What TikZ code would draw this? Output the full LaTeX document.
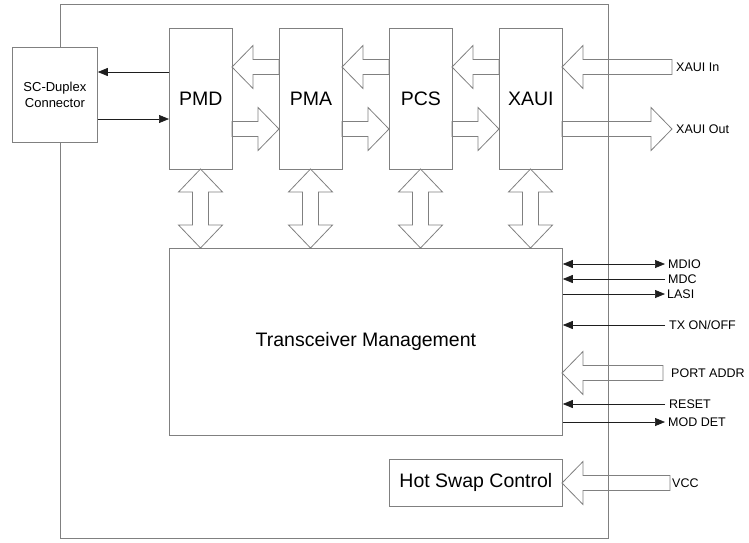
\documentclass[tikz,border=0pt]{standalone}
\usepackage{fontspec}
\setmainfont{Liberation Sans}
\usetikzlibrary{arrows.meta,calc}
\definecolor{boxgray}{RGB}{128,128,128}
\definecolor{siggray}{RGB}{30,30,30}
% horizontal block arrow: tail x, tip x, centre y
\newcommand\hbarrow[3]{%
  \pgfmathsetmacro\hbbase{(#2>#1) ? (#2-21) : (#2+21)}%
  \draw[blk] (#1,#3-7.5) -- (\hbbase,#3-7.5) -- (\hbbase,#3-21.5) -- (#2,#3)
    -- (\hbbase,#3+21.5) -- (\hbbase,#3+7.5) -- (#1,#3+7.5) -- cycle;}
% vertical double block arrow: centre x, top tip y, bottom tip y
\newcommand\vdarrow[3]{%
  \draw[blk] (#1,#2) -- (#1+22,#2+23) -- (#1+8,#2+23) -- (#1+8,#3-23)
    -- (#1+22,#3-23) -- (#1,#3) -- (#1-22,#3-23) -- (#1-8,#3-23)
    -- (#1-8,#2+23) -- (#1-22,#2+23) -- cycle;}
\begin{document}
\begin{tikzpicture}[x=1pt,y=-1pt,
  box/.style={draw=boxgray, line width=0.8pt, fill=white, inner sep=0pt, anchor=north west},
  blk/.style={draw=boxgray, line width=0.8pt, line join=miter},
  sig/.style={draw=siggray, line width=0.7pt},
  sigend/.style={-{Triangle[length=10pt,width=8pt]}},
  sigboth/.style={{Triangle[length=10pt,width=8pt]}-{Triangle[length=10pt,width=8pt]}},
  big/.style={font=\fontsize{19.5}{22}\selectfont},
  lbl/.style={font=\fontsize{12.5}{14}\selectfont, anchor=west, inner sep=0pt}]
\useasboundingbox (0,0) rectangle (749,542);

% outer module outline
\draw[boxgray, line width=0.8pt] (60,4) rectangle (608,538);

% blocks
\node[box, minimum width=85pt, minimum height=95pt, align=center,
      font=\fontsize{13}{15.5}\selectfont] (sc) at (12,47) {SC-Duplex\\Connector};
\node[box, big, minimum width=63pt, minimum height=141pt] (pmd) at (169,28) {PMD};
\node[box, big, minimum width=63pt, minimum height=141pt] (pma) at (279,28) {PMA};
\node[box, big, minimum width=63pt, minimum height=141pt] (pcs) at (389,28) {PCS};
\node[box, big, minimum width=63pt, minimum height=141pt] (xaui) at (499,28) {XAUI};
\node[box, big, minimum width=393pt, minimum height=187pt] (mgmt) at (169,248) {Transceiver Management};
\node[box, big, minimum width=173pt, minimum height=47pt] (hsc) at (389,459) {Hot Swap Control};

% block arrows between blocks (upper row: leftwards, lower row: rightwards)
\hbarrow{279}{232}{67}
\hbarrow{389}{342}{67}
\hbarrow{499}{452}{67}
\hbarrow{232}{279}{129}
\hbarrow{342}{389}{129}
\hbarrow{452}{499}{129}
% external block arrows
\hbarrow{672}{562}{67}
\hbarrow{562}{672}{129}
\hbarrow{663}{562}{373}
\hbarrow{670}{562}{483}

% vertical double arrows to management
\vdarrow{200.5}{169}{248}
\vdarrow{310.5}{169}{248}
\vdarrow{420.5}{169}{248}
\vdarrow{530.5}{169}{248}

% SC connector links
\coordinate (c1) at (0,72);
\coordinate (c2) at (0,119);
\draw[sig, sigend] (pmd.west |- c1) -- (sc.east |- c1);
\draw[sig, sigend] (sc.east |- c2) -- (pmd.west |- c2);

% external labels
\node[lbl] (lxin)  at (676,67)  {XAUI In};
\node[lbl] (lxout) at (676,129) {XAUI Out};
\node[lbl] (lmdio) at (668,264) {MDIO};
\node[lbl] (lmdc)  at (668,279) {MDC};
\node[lbl] (llasi) at (667,294) {LASI};
\node[lbl] (ltx)   at (669,325) {TX ON/OFF};
\node[lbl] (lport) at (671,373) {PORT ADDR};
\node[lbl] (lrst)  at (669,404) {RESET};
\node[lbl] (lmod)  at (668,422) {MOD DET};
\node[lbl] (lvcc)  at (672,483) {VCC};

% management signal lines
\coordinate (emdio) at (665,264);
\coordinate (emdc)  at (665,279);
\coordinate (elasi) at (665,294);
\coordinate (etx)   at (665,325);
\coordinate (erst)  at (665,404);
\coordinate (emod)  at (665,422);
\draw[sig, sigboth] (mgmt.east |- emdio) -- (emdio);
\draw[sig, sigend] (emdc) -- (mgmt.east |- emdc);
\draw[sig, sigend] (mgmt.east |- elasi) -- (elasi);
\draw[sig, sigend] (etx) -- (mgmt.east |- etx);
\draw[sig, sigend] (erst) -- (mgmt.east |- erst);
\draw[sig, sigend] (mgmt.east |- emod) -- (emod);
\end{tikzpicture}
\end{document}
